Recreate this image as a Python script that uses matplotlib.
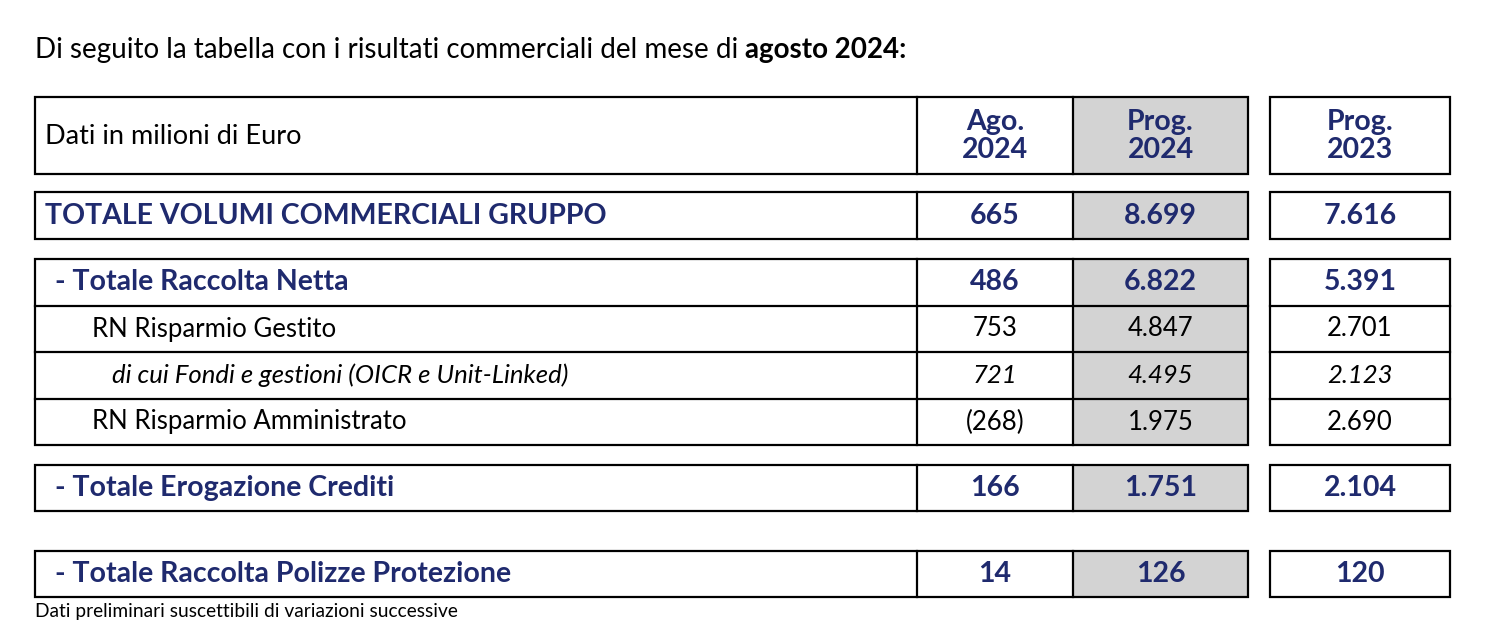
import matplotlib
matplotlib.use("Agg")
import matplotlib.pyplot as plt
from matplotlib.patches import Rectangle

labels = ["TOTALE VOLUMI COMMERCIALI GRUPPO", "- Totale Raccolta Netta", "RN Risparmio Gestito",
          "di cui Fondi e gestioni (OICR e Unit-Linked)", "RN Risparmio Amministrato",
          "- Totale Erogazione Crediti", "- Totale Raccolta Polizze Protezione"]
ago_2024 = ["665", "486", "753", "721", "(268)", "166", "14"]
prog_2024 = ["8.699", "6.822", "4.847", "4.495", "1.975", "1.751", "126"]
prog_2023 = ["7.616", "5.391", "2.701", "2.123", "2.690", "2.104", "120"]
headers = ["Ago.\n2024", "Prog.\n2024", "Prog.\n2023"]

FONT = "Lato"
NAVY = "#1f2a6e"
GRAY = "#d3d3d3"
styles = ["top", "bold", "normal", "italic", "normal", "bold", "bold"]
indent = [45, 55, 92, 112, 92, 55, 55]
rows_y = [(192, 239), (259, 306), (306, 352), (352, 399), (399, 445), (465, 511), (551, 597)]
groups = [(97, 174), (192, 239), (259, 445), (465, 511), (551, 597)]

fig = plt.figure(figsize=(15, 6.32), dpi=100)
ax = fig.add_axes([0, 0, 1, 1])
ax.set_xlim(0, 1500); ax.set_ylim(632, 0); ax.axis("off")

X0, X1, X2, X3, XR0, XR1 = 35, 917, 1073, 1248, 1270, 1450
lw = 1.6
for (t, b) in groups:
    ax.add_patch(Rectangle((X2, t), X3 - X2, b - t, facecolor=GRAY, edgecolor="none"))
    ax.add_patch(Rectangle((X0, t), X3 - X0, b - t, fill=False, edgecolor="black", lw=lw))
    ax.add_patch(Rectangle((XR0, t), XR1 - XR0, b - t, fill=False, edgecolor="black", lw=lw))
    ax.plot([X1, X1], [t, b], color="black", lw=lw)
    ax.plot([X2, X2], [t, b], color="black", lw=lw)
for (t, b) in rows_y[1:4]:
    ax.plot([X0, X3], [b, b], color="black", lw=lw)
    ax.plot([XR0, XR1], [b, b], color="black", lw=lw)

t1 = ax.text(35, 50, "Di seguito la tabella con i risultati commerciali del mese di ", fontsize=20,
             family=FONT, va="center", ha="left")
ax.annotate("agosto 2024:", xy=(1, 0.5), xycoords=t1, fontsize=20, family=FONT, weight="bold",
            va="center", ha="left")
ax.text(45, 136, "Dati in milioni di Euro", fontsize=19.5, family=FONT, va="center")
for h, xc in zip(headers, [(X1 + X2) / 2, (X2 + X3) / 2, (XR0 + XR1) / 2]):
    ax.text(xc, 136, h, fontsize=20.5, family=FONT, weight="bold", color=NAVY, ha="center",
            va="center", linespacing=1.1)

for i, lab in enumerate(labels):
    t, b = rows_y[i]
    yc = (t + b) / 2
    st = styles[i]
    kw = dict(family=FONT, va="center")
    if st in ("top", "bold"):
        kw.update(weight="bold", color=NAVY, fontsize=20.5)
    elif st == "italic":
        kw.update(style="italic", color="black", fontsize=18.5)
    else:
        kw.update(color="black", fontsize=18.5)
    ax.text(indent[i], yc, lab, ha="left", **kw)
    for v, xc in zip([ago_2024[i], prog_2024[i], prog_2023[i]],
                     [(X1 + X2) / 2, (X2 + X3) / 2, (XR0 + XR1) / 2]):
        ax.text(xc, yc, v, ha="center", **kw)

ax.text(35, 612, "Dati preliminari suscettibili di variazioni successive", fontsize=13.8,
        family=FONT, va="center")
fig.savefig("out.png", dpi=100)
